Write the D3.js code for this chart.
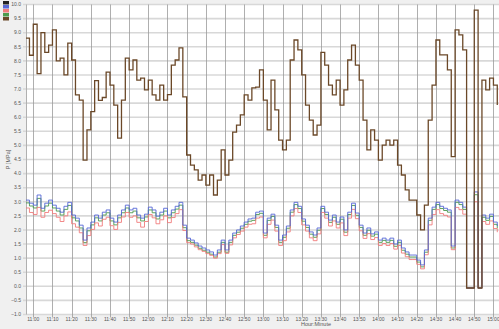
<!DOCTYPE html>
<html>
<head>
<meta charset="utf-8">
<style>
  html, body { margin: 0; padding: 0; background: #f0f0f0; overflow: hidden; }
  svg { display: block; font-family: "Liberation Sans", Arial, sans-serif; }
</style>
</head>
<body>
<div id="chart"></div>
<script src="https://cdn.jsdelivr.net/npm/d3@7"></script>
<script>
// sample times, minutes after 11:00
var minutes = d3.range(-4, 243, 2);

var brown = [
  8.81, 8.2, 9.3, 7.55, 9.0, 8.3, 8.56, 9.1, 8.0, 8.1, 7.5, 8.63, 8.03, 6.79, 6.61, 4.48, 5.55, 6.2, 7.3, 6.6,
  6.7, 7.6, 7.14, 6.43, 5.26, 6.61, 8.1, 7.68, 8.03, 7.32, 7.39, 6.97, 7.32, 6.79, 6.61, 7.14, 6.61, 6.8, 7.85, 8.03,
  8.46, 6.72, 4.66, 4.30, 4.13, 3.77, 3.95, 3.59, 3.95, 3.24, 3.77, 4.84, 3.95, 4.48, 5.47, 5.72, 6.08, 6.79, 6.61, 7.04,
  7.07, 7.68, 6.61, 5.55, 7.32, 6.26, 5.19, 4.84, 5.19, 8.03, 8.74, 8.39, 7.50, 6.43, 5.90, 5.37, 5.72, 8.3, 7.85, 7.14,
  6.79, 7.32, 6.43, 6.97, 8.03, 8.56, 7.85, 7.32, 5.90, 4.84, 5.55, 5.19, 4.48, 5.01, 5.19, 5.01, 5.19, 4.30, 3.95, 3.42,
  3.06, 3.06, 2.53, 2.00, 2.88, 5.90, 7.14, 8.74, 8.21, 8.21, 7.68, 4.6, 9.10, 8.92, 8.39, -0.06, -0.06, 9.80, -0.06, 7.32,
  6.97, 7.39, 7.14, 6.43
];

var blue = [
  3.06, 2.95, 2.88, 3.24, 2.77, 2.95, 3.06, 2.88, 2.77, 2.63, 2.84, 2.98, 2.53, 2.42, 2.17, 1.64, 2.07, 2.28, 2.53, 2.42,
  2.63, 2.71, 2.42, 2.28, 2.53, 2.71, 2.88, 2.71, 2.77, 2.53, 2.42, 2.56, 2.81, 2.71, 2.49, 2.63, 2.77, 2.53, 2.71, 2.84,
  2.98, 2.17, 1.71, 1.64, 1.54, 1.43, 1.36, 1.29, 1.22, 1.11, 1.29, 1.64, 1.29, 1.64, 1.89, 2.00, 2.14, 2.28, 2.39, 2.42,
  2.63, 2.67, 1.89, 2.42, 2.56, 2.17, 1.64, 1.82, 2.14, 2.71, 2.98, 2.84, 2.39, 2.17, 1.93, 1.82, 2.07, 2.84, 2.63, 2.35,
  2.53, 2.28, 2.46, 2.00, 2.63, 2.95, 2.60, 2.17, 1.89, 2.07, 1.86, 1.93, 1.64, 1.71, 1.64, 1.71, 1.50, 1.64, 1.36, 1.22,
  1.11, 1.11, 0.93, 0.76, 1.29, 2.42, 2.81, 2.98, 2.84, 2.77, 2.71, 1.43, 3.06, 2.98, 2.81, -0.06, -0.06, 3.35, -0.06, 2.53,
  2.42, 2.56, 2.28, 2.14
];

var red = [
  2.78, 2.62, 2.55, 2.80, 2.45, 2.62, 2.70, 2.58, 2.45, 2.30, 2.50, 2.64, 2.22, 2.10, 1.90, 1.45, 1.80, 2.02, 2.25, 2.14,
  2.38, 2.45, 2.15, 2.02, 2.27, 2.46, 2.62, 2.45, 2.50, 2.27, 2.10, 2.30, 2.55, 2.43, 2.22, 2.36, 2.50, 2.26, 2.44, 2.58,
  2.72, 1.98, 1.55, 1.50, 1.40, 1.30, 1.24, 1.16, 1.10, 1.00, 1.16, 1.48, 1.17, 1.47, 1.72, 1.84, 1.96, 2.10, 2.20, 2.22,
  2.42, 2.46, 1.72, 2.20, 2.35, 1.96, 1.45, 1.62, 1.93, 2.50, 2.76, 2.62, 2.18, 1.96, 1.72, 1.62, 1.86, 2.62, 2.42, 2.14,
  2.32, 2.07, 2.25, 1.80, 2.42, 2.73, 2.40, 1.97, 1.70, 1.87, 1.66, 1.73, 1.45, 1.52, 1.45, 1.52, 1.32, 1.45, 1.18, 1.05,
  0.95, 0.95, 0.78, 0.62, 1.12, 2.18, 2.55, 2.72, 2.58, 2.52, 2.46, 1.30, 2.80, 2.72, 2.56, -0.06, -0.06, 3.00, -0.06, 2.30,
  2.20, 2.32, 2.05, 1.92
];

var green = [
  2.96, 2.85, 2.78, 3.12, 2.67, 2.85, 2.95, 2.78, 2.67, 2.53, 2.73, 2.87, 2.43, 2.32, 2.07, 1.55, 1.97, 2.18, 2.43, 2.32,
  2.53, 2.61, 2.32, 2.18, 2.43, 2.61, 2.78, 2.61, 2.67, 2.43, 2.32, 2.46, 2.71, 2.61, 2.39, 2.53, 2.67, 2.43, 2.61, 2.74,
  2.88, 2.08, 1.62, 1.56, 1.46, 1.35, 1.28, 1.21, 1.14, 1.04, 1.21, 1.56, 1.21, 1.56, 1.81, 1.92, 2.06, 2.20, 2.31, 2.34,
  2.55, 2.59, 1.81, 2.34, 2.48, 2.09, 1.56, 1.74, 2.06, 2.63, 2.90, 2.76, 2.31, 2.09, 1.85, 1.74, 1.99, 2.76, 2.55, 2.27,
  2.45, 2.20, 2.38, 1.92, 2.55, 2.87, 2.52, 2.09, 1.81, 1.99, 1.78, 1.85, 1.56, 1.63, 1.56, 1.63, 1.42, 1.56, 1.28, 1.14,
  1.04, 1.04, 0.86, 0.69, 1.21, 2.34, 2.73, 2.90, 2.76, 2.69, 2.63, 1.36, 2.98, 2.90, 2.73, -0.06, -0.06, 3.25, -0.06, 2.45,
  2.34, 2.48, 2.20, 2.06
];

var yTicks = d3.range(-1, 10.01, 0.5);
var xTicks = d3.range(0, 241, 10);
var xTickLabels = ["11:00", "11:10", "11:20", "11:30", "11:40", "11:50", "12:00", "12:10", "12:20", "12:30",
  "12:40", "12:50", "13:00", "13:10", "13:20", "13:30", "13:40", "13:50", "14:00", "14:10",
  "14:20", "14:30", "14:40", "14:50", "15:00"];

var seriesNames = ["marker", "blue", "red", "green", "brown"];
var seriesColors = ["#222222", "#5566d6", "#f07c7c", "#4c9a4c", "#6b4828"];

var width = 499, height = 329;
var plotLeft = 26, plotRight = 499, plotTop = 4.5, plotBottom = 314.5;

var svg = d3.select("#chart")
  .append("svg")
    .attr("width", width)
    .attr("height", height);

var x = d3.scaleLinear().domain([-3.8, 242.9]).range([plotLeft, plotRight]);
var y = d3.scaleLinear().domain([-1, 10]).range([plotBottom, plotTop]);

svg.append("rect")
  .attr("x", plotLeft).attr("y", plotTop)
  .attr("width", plotRight - plotLeft).attr("height", plotBottom - plotTop)
  .attr("fill", "#fff");

// horizontal grid
svg.append("g")
  .selectAll("line")
  .data(yTicks)
  .enter().append("line")
    .attr("x1", plotLeft - 3).attr("x2", plotRight)
    .attr("y1", function(d) { return y(d); })
    .attr("y2", function(d) { return y(d); })
    .attr("stroke", "#d8d8d8")
    .attr("stroke-width", 1.6);

// vertical grid, running down to the labels as ticks
svg.append("g")
  .selectAll("line")
  .data(xTicks)
  .enter().append("line")
    .attr("x1", function(d) { return Math.round(x(d)) + 0.5; })
    .attr("x2", function(d) { return Math.round(x(d)) + 0.5; })
    .attr("y1", plotTop).attr("y2", plotBottom + 3)
    .attr("stroke", "#9a9a9a")
    .attr("stroke-width", 0.8);

svg.append("line")
  .attr("x1", plotLeft + 0.5).attr("x2", plotLeft + 0.5)
  .attr("y1", plotTop).attr("y2", plotBottom)
  .attr("stroke", "#b0b0b0");

svg.append("g")
  .selectAll("text")
  .data(yTicks)
  .enter().append("text")
    .attr("x", plotLeft - 5)
    .attr("y", function(d) { return y(d) + 1.8; })
    .attr("text-anchor", "end")
    .attr("font-size", 5)
    .attr("fill", "#555")
    .text(function(d) { return d3.format(".1f")(d); });

svg.append("g")
  .selectAll("text")
  .data(xTicks)
  .enter().append("text")
    .attr("x", function(d) { return x(d); })
    .attr("y", plotBottom + 6.5)
    .attr("text-anchor", "middle")
    .attr("font-size", 5)
    .attr("fill", "#555")
    .text(function(d, i) { return xTickLabels[i]; });

svg.append("text")
  .attr("x", 316).attr("y", 326)
  .attr("text-anchor", "middle")
  .attr("font-size", 5.5)
  .attr("fill", "#555")
  .text("Hour:Minute");

svg.append("text")
  .attr("transform", "translate(10," + ((plotTop + plotBottom) / 2) + ") rotate(-90)")
  .attr("text-anchor", "middle")
  .attr("font-size", 5.5)
  .attr("fill", "#555")
  .text("P [MPa]");

svg.append("clipPath").attr("id", "plotclip")
  .append("rect")
    .attr("x", plotLeft).attr("y", plotTop)
    .attr("width", plotRight - plotLeft).attr("height", plotBottom - plotTop);

var line = d3.line()
  .x(function(d, i) { return x(minutes[i]); })
  .y(function(d) { return y(d); })
  .curve(d3.curveStepAfter);

var plot = svg.append("g").attr("clip-path", "url(#plotclip)");

var drawOrder = [
  {values: green, color: seriesColors[3], w: 0.9},
  {values: red, color: seriesColors[2], w: 0.9},
  {values: blue, color: seriesColors[1], w: 0.9},
  {values: brown, color: seriesColors[4], w: 1.3}
];

drawOrder.forEach(function(s) {
  plot.append("path")
    .datum(s.values)
    .attr("fill", "none")
    .attr("stroke", s.color)
    .attr("stroke-width", s.w)
    .attr("d", line);
});

// little colour key in the corner
svg.append("g")
  .selectAll("rect")
  .data(seriesNames)
  .enter().append("rect")
    .attr("x", 3)
    .attr("y", function(d, i) { return 1 + i * 4; })
    .attr("width", 6)
    .attr("height", 3.5)
    .attr("fill", function(d, i) { return seriesColors[i]; });
</script>
</body>
</html>
